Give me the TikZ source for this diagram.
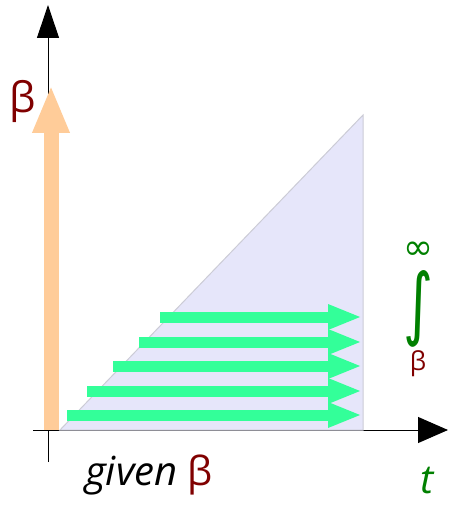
\documentclass[tikz,border=0pt]{standalone}
\usepackage{fontspec,graphicx}
\setmainfont{Open Sans}
\newfontfamily\symfont{DejaVu Sans}
\definecolor{bandorange}{RGB}{255,204,153}
\definecolor{bandgreen}{RGB}{51,255,153}
\definecolor{regionlav}{RGB}{230,230,250}
\definecolor{regionedge}{RGB}{204,204,214}
\definecolor{betared}{RGB}{128,0,0}
\definecolor{intgreen}{RGB}{0,128,0}
\usetikzlibrary{arrows.meta}

\begin{document}
\begin{tikzpicture}[x=1pt, y=-1pt,
  axisline/.style={black, line width=1pt},
  fwdarrow/.style={bandgreen, line width=11pt, -{Triangle[length=34pt,width=23pt]}},
  betalabel/.style={betared, inner sep=0pt, font=\fontsize{42}{42}\selectfont}]
\useasboundingbox (0,0) rectangle (448,505);

% Axes
\coordinate (yb) at (48,462);
\coordinate (yt) at (48,5);
\coordinate (xl) at (33,430);
\coordinate (xr) at (448,430);
\draw[axisline, -{Triangle[length=33pt,width=22pt]}] (yb) -- (yt);
\draw[axisline, -{Triangle[length=30pt,width=26pt]}] (xl) -- (xr);

% Region of integration
\coordinate (r1) at (60,430);
\coordinate (r2) at (363,115);
\coordinate (r3) at (363,430);
\draw[regionedge, fill=regionlav, line width=1pt] (r1) -- (r2) -- (r3) -- cycle;

% Beta direction
\coordinate (ob) at (51,430);
\coordinate (ot) at (51,85);
\draw[bandorange, line width=15pt, -{Triangle[length=48pt,width=34pt]}] (ob) -- (ot);

% Time direction
\foreach \xs/\yy in {67/415, 87/391, 113/366, 139/342, 160/317}
  \draw[fwdarrow] (\xs,\yy) -- (362,\yy);

% Labels
\node[betalabel] (beta) at (23,101) {β};
\node[anchor=base west, inner sep=0pt, font=\fontsize{40}{40}\selectfont]
  (given) at (85,485) {\textit{given} \textcolor{betared}{β}};
\node[anchor=base west, inner sep=0pt, intgreen, font=\fontsize{40}{40}\selectfont\itshape]
  (tlabel) at (420,493) {t};

\node[intgreen, inner sep=0pt, font=\symfont\fontsize{36}{36}\selectfont] (inf) at (418,251) {∞};
\node[intgreen, inner sep=0pt, font=\symfont\fontsize{20}{20}\selectfont]
  (intsign) at (418,309) {\resizebox{30pt}{60pt}{∫}};
\node[betared, inner sep=0pt, font=\fontsize{26}{26}\selectfont] (lower) at (418,364) {β};
\end{tikzpicture}
\end{document}
